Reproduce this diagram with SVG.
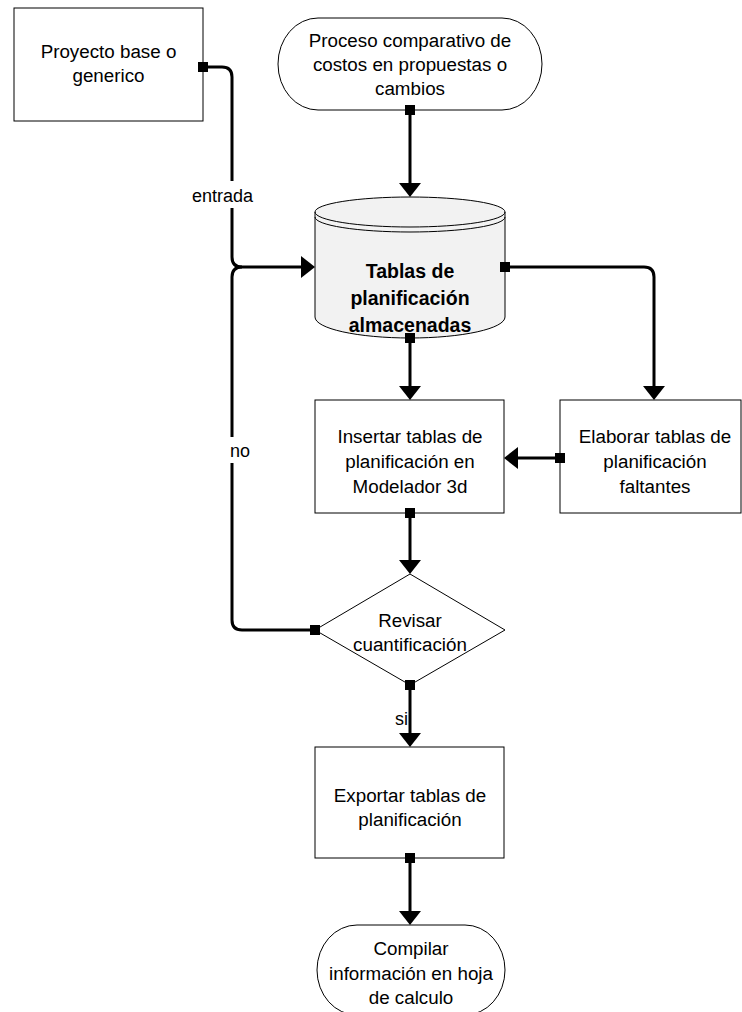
<svg xmlns="http://www.w3.org/2000/svg" width="742" height="1012" viewBox="0 0 742 1012">
<style>
.shape{fill:#ffffff;stroke:#000000;stroke-width:1}
.cyl{fill:#f2f2f2;stroke:#000000;stroke-width:1}
.t{font-family:"Liberation Sans",Arial,sans-serif;font-size:18.8px;fill:#000000;text-anchor:middle}
.b{font-weight:bold;font-size:19.5px}
.conn{fill:none;stroke:#000000;stroke-width:3}
.lbl{font-family:"Liberation Sans",Arial,sans-serif;font-size:18px;fill:#000000}
</style>
<defs>
<marker id="arr" markerUnits="userSpaceOnUse" markerWidth="16" markerHeight="24" refX="0" refY="11" orient="auto" overflow="visible">
<path d="M0,0 L14,11 L0,22 z" fill="#000000"/>
</marker>
<marker id="sq" markerUnits="userSpaceOnUse" markerWidth="10" markerHeight="10" refX="5" refY="5" orient="auto" overflow="visible">
<rect x="0" y="0" width="10" height="10" fill="#000000"/>
</marker>
</defs>

<g id="n-proyecto">
<rect class="shape" x="14" y="8" width="189" height="113"/>
<text class="t" x="108.5" y="58">Proyecto base o</text>
<text class="t" x="108.5" y="82">generico</text>
</g>

<g id="n-proceso">
<path class="shape" d="M318,18 H502 A40,46 0 0 1 502,110 H318 A40,46 0 0 1 318,18 Z"/>
<text class="t" x="410" y="47">Proceso comparativo de</text>
<text class="t" x="410" y="71">costos en propuestas o</text>
<text class="t" x="410" y="95">cambios</text>
</g>

<g id="n-tablas">
<path class="cyl" d="M315,212 A95,15 0 0 1 505,212 V317 A95,21 0 0 1 315,317 Z"/>
<path fill="none" stroke="#000000" stroke-width="1" d="M315,212 A95,15 0 0 0 505,212"/>
<path fill="none" stroke="#000000" stroke-width="1" d="M315,217 A95,15 0 0 0 505,217"/>
<text class="t b" x="410" y="278">Tablas de</text>
<text class="t b" x="410" y="305">planificación</text>
<text class="t b" x="410" y="332">almacenadas</text>
</g>

<g id="n-insertar">
<rect class="shape" x="315" y="400" width="189" height="113"/>
<text class="t" x="410" y="443">Insertar tablas de</text>
<text class="t" x="410" y="468">planificación en</text>
<text class="t" x="410" y="493">Modelador 3d</text>
</g>

<g id="n-elaborar">
<rect class="shape" x="560" y="400" width="181" height="113"/>
<text class="t" x="655" y="443">Elaborar tablas de</text>
<text class="t" x="655" y="468">planificación</text>
<text class="t" x="655" y="493">faltantes</text>
</g>

<g id="n-revisar">
<polygon class="shape" points="410,574 505,630 410,685 315,630"/>
<text class="t" x="410" y="627">Revisar</text>
<text class="t" x="410" y="651">cuantificación</text>
</g>

<g id="n-exportar">
<rect class="shape" x="315" y="747" width="189" height="111"/>
<text class="t" x="410" y="802">Exportar tablas de</text>
<text class="t" x="410" y="826">planificación</text>
</g>

<g id="n-compilar">
<path class="shape" d="M357,925 H465 A40,45 0 0 1 465,1015 H357 A40,45 0 0 1 357,925 Z"/>
<text class="t" x="411" y="955">Compilar</text>
<text class="t" x="411" y="980">información en hoja</text>
<text class="t" x="411" y="1004">de calculo</text>
</g>

<g id="connectors">
<path class="conn" marker-start="url(#sq)" marker-end="url(#arr)" d="M203,67 H222 Q232,67 232,77 V257 Q232,267 242,267 H301"/>
<path class="conn" marker-start="url(#sq)" d="M315,630 H242 Q232,630 232,620 V277 Q232,267 242,267"/>
<path class="conn" marker-start="url(#sq)" marker-end="url(#arr)" d="M410,110 V183"/>
<path class="conn" marker-start="url(#sq)" marker-end="url(#arr)" d="M505,267 H644 Q654,267 654,277 V386"/>
<path class="conn" marker-start="url(#sq)" marker-end="url(#arr)" d="M410,338 V386"/>
<path class="conn" marker-start="url(#sq)" marker-end="url(#arr)" d="M560,458 H518"/>
<path class="conn" marker-start="url(#sq)" marker-end="url(#arr)" d="M410,513 V560"/>
<path class="conn" marker-start="url(#sq)" marker-end="url(#arr)" d="M410,685 V733"/>
<path class="conn" marker-start="url(#sq)" marker-end="url(#arr)" d="M410,858 V911"/>
<rect x="188" y="181" width="69" height="27" fill="#ffffff"/>
<text class="lbl" x="222.5" y="202" text-anchor="middle">entrada</text>
<rect x="228" y="437" width="26" height="26" fill="#ffffff"/>
<text class="lbl" x="240" y="457" text-anchor="middle">no</text>
<text class="lbl" x="408" y="725" text-anchor="end">si</text>
</g>
</svg>
